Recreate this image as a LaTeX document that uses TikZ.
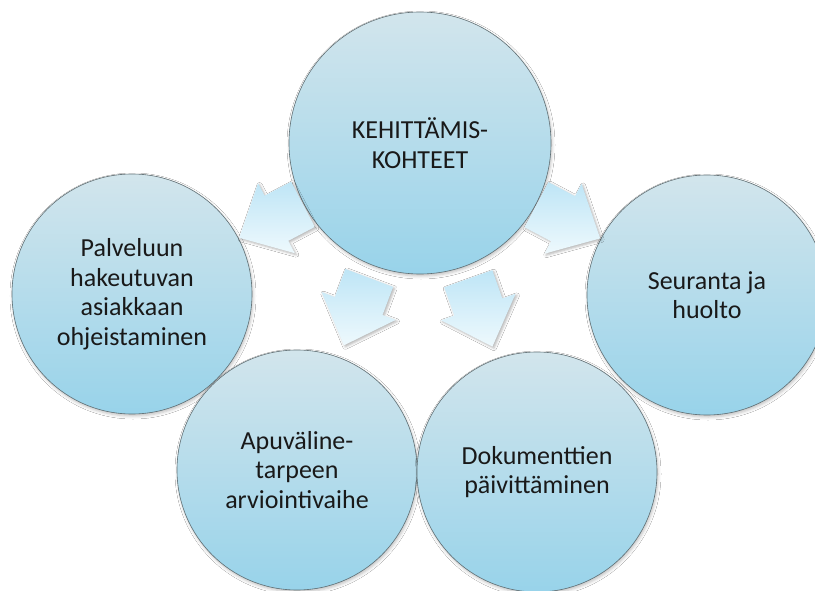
\documentclass[tikz,border=0pt]{standalone}
\usepackage{fontspec}
\setmainfont{Carlito}
\usetikzlibrary{shadows.blur}

\definecolor{ringtop}{RGB}{210,229,236}
\definecolor{ringbot}{RGB}{152,211,234}
\definecolor{ringedge}{RGB}{95,110,115}
\definecolor{arrlight}{RGB}{238,249,253}
\definecolor{arrdeep}{RGB}{190,229,246}
\definecolor{ink}{RGB}{25,25,25}

% block arrow pointing along local +x, centred on the origin
\tikzset{
  blockarrow/.pic={
    \shade[top color=arrdeep, bottom color=arrlight,
      blur shadow={shadow xshift=1.5pt, shadow yshift=-1.5pt,
        shadow blur radius=2.5pt, shadow opacity=30}]
      (-36,-25.5) -- (-6,-25.5) -- (-6,-39.5) -- (36,0)
      -- (-6,39.5) -- (-6,25.5) -- (-36,25.5) -- cycle;
  }
}

\begin{document}
\begin{tikzpicture}[x=1pt,y=-1pt,
  topic/.style={circle, draw=ringedge, line width=0.6pt,
    top color=ringtop, bottom color=ringbot,
    minimum size=240pt, inner sep=0pt, align=center, text=ink,
    font=\fontsize{26}{29.5}\selectfont,
    blur shadow={shadow xshift=1pt, shadow yshift=-2pt,
      shadow blur radius=3pt, shadow opacity=25}},
  hub/.style={topic, minimum size=262pt}
]
\useasboundingbox (0,0) rectangle (815,591);
\clip (0,0) rectangle (815,591);
\fill[white] (0,0) rectangle (815,591);

% central topic and the four areas around it
\node[hub]   (hub)   at (420,143) {KEHITTÄMIS-\\KOHTEET};
\node[topic] (left)  at (132,294) {Palveluun\\hakeutuvan\\asiakkaan\\ohjeistaminen};
\node[topic] (right) at (707,295) {Seuranta ja\\huolto};
\node[topic] (bl)    at (297,470) {Apuväline-\\tarpeen\\arviointivaihe};
\node[topic] (br)    at (537,472) {Dokumenttien\\päivittäminen};

% middle of each gap between the hub and an outer circle
\path (hub) -- coordinate[midway] (g1) (left);
\path (hub) -- coordinate[midway] (g2) (right);
\path (hub) -- coordinate[midway] (g3) (bl);
\path (hub) -- coordinate[midway] (g4) (br);

% block arrows in the gaps, pointing outwards
\pic[rotate=207.7] at (g1) {blockarrow};
\pic[rotate=332.1] at (g2) {blockarrow};
\pic[rotate=249.4] at (g3) {blockarrow};
\pic[rotate=289.6] at (g4) {blockarrow};
\end{tikzpicture}
\end{document}
